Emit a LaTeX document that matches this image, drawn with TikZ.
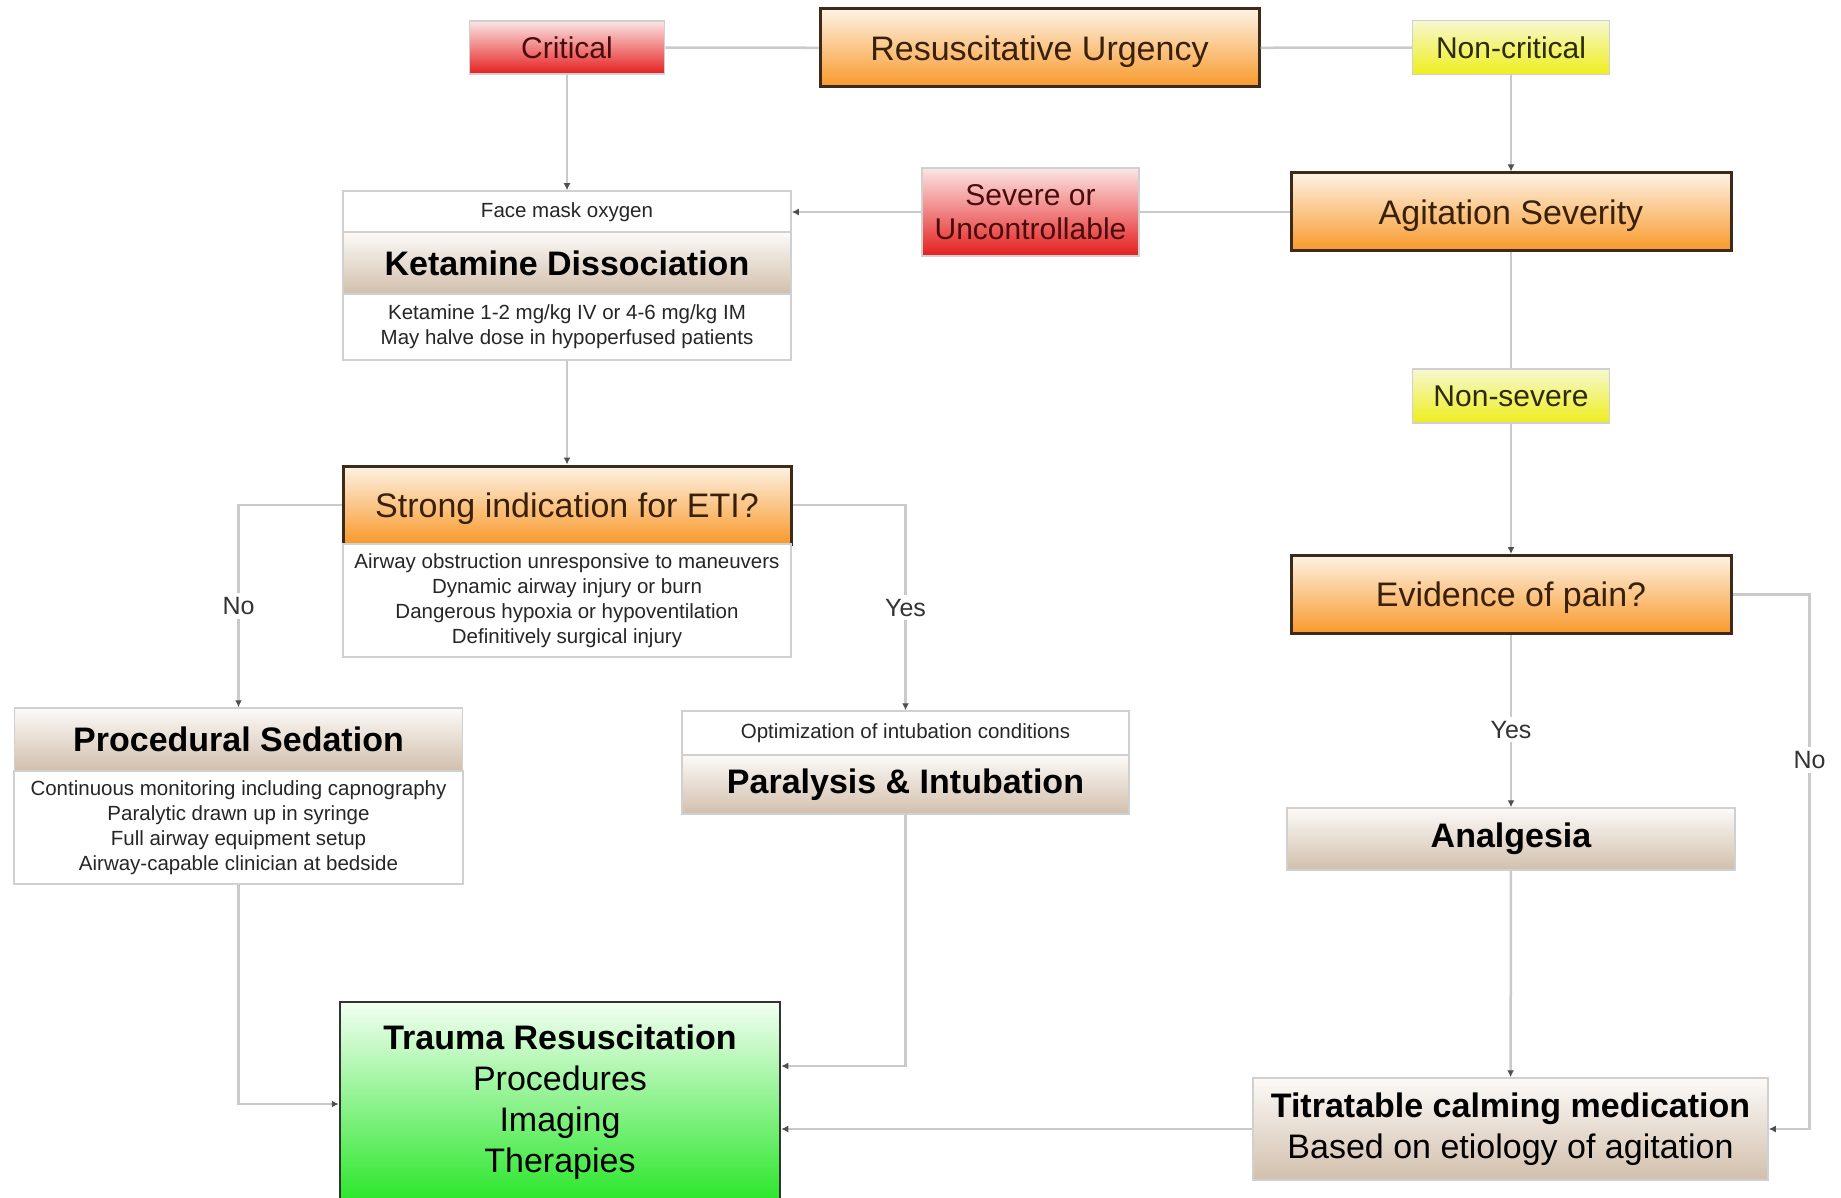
\documentclass[tikz,border=0pt]{standalone}
\usepackage{fontspec}
\setmainfont{Liberation Sans}
\usetikzlibrary{arrows.meta}

\definecolor{lineGray}{HTML}{CACACA}
\definecolor{tipGray}{HTML}{505050}
\definecolor{boxEdge}{HTML}{D0D0D0}
\definecolor{orTop}{HTML}{FDF2E4}
\definecolor{orBot}{HTML}{F8992A}
\definecolor{orText}{HTML}{3A2008}
\definecolor{orEdge}{HTML}{3E2A18}
\definecolor{redTop}{HTML}{FBE6E6}
\definecolor{redBot}{HTML}{E61E1E}
\definecolor{redText}{HTML}{4A0C0C}
\definecolor{yelTop}{HTML}{F7F8D0}
\definecolor{yelBot}{HTML}{EEEE1C}
\definecolor{yelText}{HTML}{2C2C00}
\definecolor{tanTop}{HTML}{FCFAF8}
\definecolor{tanBot}{HTML}{D2BFAC}
\definecolor{grnTop}{HTML}{F2FFF2}
\definecolor{grnBot}{HTML}{2AE62A}

\tikzset{
    conn/.style={draw=lineGray, line width=2.5pt},
    lbl/.style={fill=white, inner sep=4pt, text=black!80, font=\fontsize{25}{30}\selectfont},
    oneline/.style={text height=#1, text depth=0pt},
    orangebox/.style={rectangle, draw=orEdge, line width=3pt, top color=orTop, bottom color=orBot,
        text=orText, minimum width=440pt, minimum height=78pt, inner sep=0pt, oneline=24.5pt,
        font=\fontsize{34}{41}\selectfont},
    redtag/.style={rectangle, draw=boxEdge, line width=1.5pt, top color=redTop, bottom color=redBot,
        text=redText, align=center, inner sep=0pt, font=\fontsize{30}{34}\selectfont},
    yeltag/.style={rectangle, draw=boxEdge, line width=1.5pt, top color=yelTop, bottom color=yelBot,
        text=yelText, minimum width=197pt, minimum height=54pt, inner sep=0pt, oneline=21.5pt,
        font=\fontsize{30}{34}\selectfont},
    tanhead/.style={rectangle, draw=boxEdge, line width=1.5pt, top color=tanTop, bottom color=tanBot,
        minimum width=448pt, align=center, inner sep=0pt, font=\fontsize{34}{41}\selectfont\bfseries},
    notebox/.style={rectangle, draw=boxEdge, line width=1.5pt, fill=white, minimum width=448pt,
        align=center, inner sep=0pt, text=black!85, font=\fontsize{20.5}{25}\selectfont},
    greenbox/.style={rectangle, draw=black!80, line width=2.5pt, top color=grnTop, bottom color=grnBot,
        align=center, inner sep=0pt, font=\fontsize{34}{41}\selectfont}
}

\begin{document}
\begin{tikzpicture}[x=1pt, y=-1pt, >={Latex[length=7pt,width=7pt,color=tipGray]}]
                \useasboundingbox[fill=white] (0,0) rectangle (1841,1198);

                \node[orangebox, minimum width=439pt] (urg) at (1039.5,48) {Resuscitative Urgency};
                \node[redtag, oneline=21.5pt, minimum width=195pt, minimum height=53pt] (crit) at (567,47.5) {Critical};
                \node[yeltag] (noncrit) at (1511,47.5) {Non-critical};

                \node[notebox, minimum height=42pt] (ketTop) at (567,212) {Face mask oxygen};
                \node[tanhead, minimum height=62pt] (ketHead) at (567,263) {Ketamine Dissociation};
                \node[notebox, minimum height=66pt] (ketBody) at (567,327)
                        {Ketamine 1-2 mg/kg IV or 4-6 mg/kg IM\\May halve dose in hypoperfused patients};

                \node[redtag, minimum width=217pt, minimum height=88pt] (severe) at (1030.5,212) {Severe or\\Uncontrollable};
                \node[orangebox] (agit) at (1511,212) {Agitation Severity};
                \node[yeltag] (nonsev) at (1511,396) {Non-severe};

                \node[orangebox, minimum width=448pt] (eti) at (567,505) {Strong indication for ETI?};
                \node[notebox, minimum height=113pt] (etiBody) at (567,600.5)
                        {Airway obstruction unresponsive to maneuvers\\Dynamic airway injury or burn\\
                         Dangerous hypoxia or hypoventilation\\Definitively surgical injury};

                \node[orangebox] (pain) at (1511,594.5) {Evidence of pain?};

                \node[tanhead, minimum height=63pt] (sedHead) at (238.5,739.5) {Procedural Sedation};
                \node[notebox, minimum width=449pt, minimum height=113pt] (sedBody) at (238.5,827.5)
                        {Continuous monitoring including capnography\\Paralytic drawn up in syringe\\
                         Full airway equipment setup\\Airway-capable clinician at bedside};

                \node[notebox, minimum width=447pt, minimum height=44pt] (intTop) at (905.5,733)
                        {Optimization of intubation conditions};
                \node[tanhead, minimum width=447pt, minimum height=59pt] (intHead) at (905.5,784.5)
                        {Paralysis \& Intubation};

                \node[tanhead, minimum height=62pt] (analg) at (1511,839) {Analgesia};

                \node[greenbox, minimum width=440pt, minimum height=200pt] (trauma) at (560,1102)
                        {\textbf{Trauma Resuscitation}\\Procedures\\Imaging\\Therapies};
                \node[tanhead, minimum width=515pt, minimum height=102pt, font=\fontsize{34}{41}\selectfont] (titr) at (1510.5,1129)
                        {\textbf{Titratable calming medication}\\Based on etiology of agitation};

                \draw[conn] (urg) -- (crit);
                \draw[conn] (urg) -- (noncrit);
                \draw[conn,->] (crit) -- (ketTop);
                \draw[conn,->] (noncrit) -- (agit);
                \draw[conn] (agit) -- (severe);
                \draw[conn,->] (severe) -- (ketTop);
                \draw[conn,->] (ketBody) -- (eti);
                \draw[conn,->] (eti.west) -| (sedHead.north) node[lbl, pos=0.75] {No};
                \draw[conn,->] (eti.east) -| (intTop.north) node[lbl, pos=0.75] {Yes};
                \draw[conn] (agit) -- (nonsev);
                \draw[conn,->] (nonsev) -- (pain);
                \draw[conn,->] (pain) -- (analg) node[lbl, pos=0.55] {Yes};
                \draw[conn,->] (pain.east) -- ++(77,0) coordinate (painR) -- (painR |- titr.east)
                        node[lbl, pos=0.31] {No} -- (titr.east);
                \draw[conn,->] (analg) -- (titr);
                \draw[conn,->] (sedBody.south) |- ([yshift=-2pt]trauma.west);
                \draw[conn,->] (intHead.south) |- ([yshift=36pt]trauma.east);
                \draw[conn,->] (titr.west) -- (titr.west -| trauma.east);
        \end{tikzpicture}
\end{document}
